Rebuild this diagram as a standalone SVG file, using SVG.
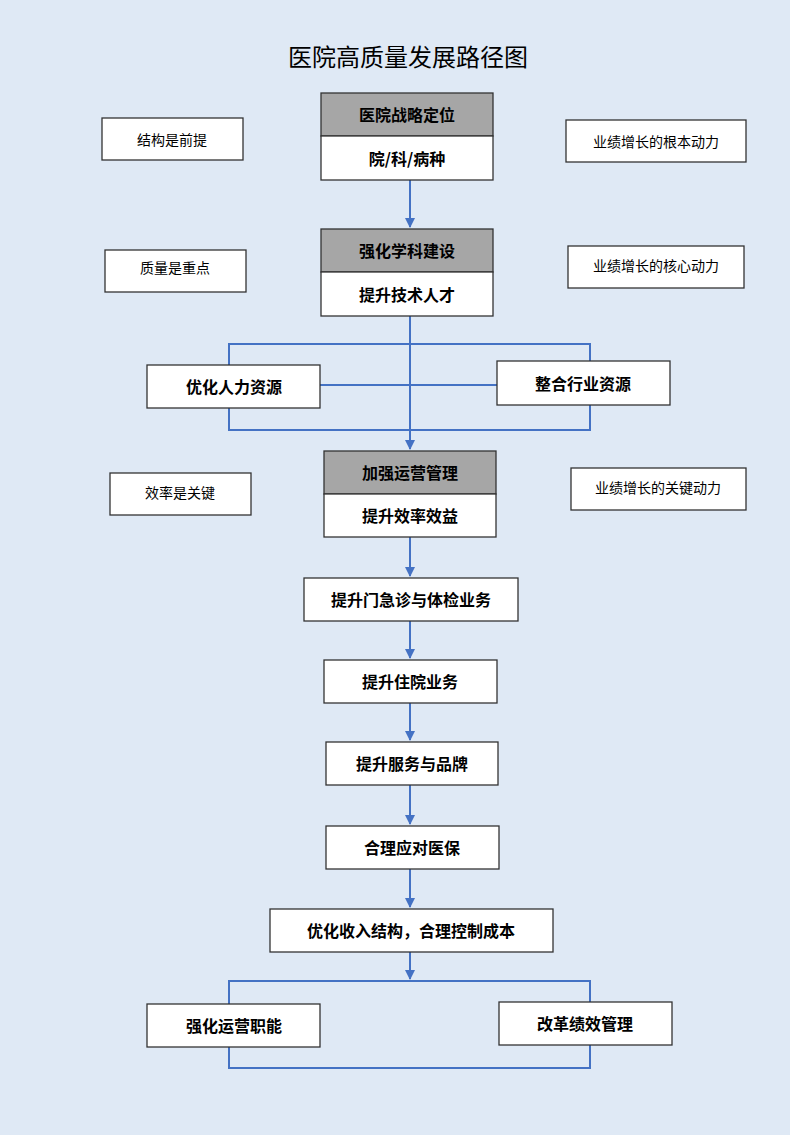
<svg xmlns="http://www.w3.org/2000/svg" width="800" height="1144" viewBox="0 0 800 1144">
<style>
.b{fill:#fff;stroke:#333;stroke-width:1.3}
.g{fill:#a6a6a6;stroke:#333;stroke-width:1.3}
.t{font-family:"Noto Sans CJK SC",sans-serif;font-size:16px;font-weight:bold;text-anchor:middle;dominant-baseline:central;fill:#000}
.s{font-family:"Noto Sans CJK SC",sans-serif;font-size:14px;text-anchor:middle;dominant-baseline:central;fill:#000}
.c{fill:none;stroke:#4472c4;stroke-width:2}
</style>
<defs><marker id="a" viewBox="0 0 10 10" refX="9" refY="5" markerWidth="5" markerHeight="5" orient="auto"><path d="M0,0L10,5L0,10z" fill="#4472c4"/></marker></defs>
<rect width="800" height="1144" fill="#fff"/>
<rect width="790" height="1135" fill="#dfe9f5"/>
<text x="408" y="55" font-family="Noto Sans CJK SC,sans-serif" font-size="24" text-anchor="middle" dominant-baseline="central">医院高质量发展路径图</text>
<g id="connectors">
<path class="c" d="M410,180V227" marker-end="url(#a)"/>
<path class="c" d="M410,316V449" marker-end="url(#a)"/>
<rect class="c" x="229" y="344" width="361" height="86"/>
<path class="c" d="M320,385H497"/>
<path class="c" d="M410,537V576" marker-end="url(#a)"/>
<path class="c" d="M410,621V658" marker-end="url(#a)"/>
<path class="c" d="M410,703V740" marker-end="url(#a)"/>
<path class="c" d="M410,785V824" marker-end="url(#a)"/>
<path class="c" d="M410,869V907" marker-end="url(#a)"/>
<path class="c" d="M410,952V979" marker-end="url(#a)"/>
<rect class="c" x="229" y="981" width="361" height="87"/>
</g>
<g id="n1"><rect class="g" x="321" y="93" width="172" height="43"/><text class="t" x="407" y="114">医院战略定位</text><rect class="b" x="321" y="136" width="172" height="44"/><text class="t" x="407" y="158">院/科/病种</text></g>
<g id="n2"><rect class="g" x="321" y="229" width="172" height="43"/><text class="t" x="407" y="250">强化学科建设</text><rect class="b" x="321" y="272" width="172" height="44"/><text class="t" x="407" y="294">提升技术人才</text></g>
<g id="n3"><rect class="b" x="147" y="365" width="173" height="43"/><text class="t" x="234" y="386">优化人力资源</text></g>
<g id="n4"><rect class="b" x="497" y="361" width="173" height="44"/><text class="t" x="583" y="383">整合行业资源</text></g>
<g id="n5"><rect class="g" x="324" y="451" width="172" height="43"/><text class="t" x="410" y="472">加强运营管理</text><rect class="b" x="324" y="494" width="172" height="43"/><text class="t" x="410" y="515">提升效率效益</text></g>
<g id="n6"><rect class="b" x="304" y="578" width="214" height="43"/><text class="t" x="411" y="599">提升门急诊与体检业务</text></g>
<g id="n7"><rect class="b" x="324" y="660" width="173" height="43"/><text class="t" x="410" y="681">提升住院业务</text></g>
<g id="n8"><rect class="b" x="326" y="742" width="172" height="43"/><text class="t" x="412" y="763">提升服务与品牌</text></g>
<g id="n9"><rect class="b" x="326" y="826" width="173" height="43"/><text class="t" x="412" y="847">合理应对医保</text></g>
<g id="n10"><rect class="b" x="270" y="909" width="283" height="43"/><text class="t" x="411" y="930">优化收入结构，合理控制成本</text></g>
<g id="n11"><rect class="b" x="147" y="1004" width="173" height="43"/><text class="t" x="234" y="1025">强化运营职能</text></g>
<g id="n12"><rect class="b" x="499" y="1002" width="173" height="43"/><text class="t" x="585" y="1023">改革绩效管理</text></g>
<g id="s1"><rect class="b" x="102" y="118" width="141" height="42"/><text class="s" x="172" y="139">结构是前提</text></g>
<g id="s2"><rect class="b" x="566" y="120" width="180" height="42"/><text class="s" x="656" y="141">业绩增长的根本动力</text></g>
<g id="s3"><rect class="b" x="105" y="250" width="141" height="42"/><text class="s" x="175" y="267">质量是重点</text></g>
<g id="s4"><rect class="b" x="568" y="246" width="176" height="42"/><text class="s" x="656" y="265">业绩增长的核心动力</text></g>
<g id="s5"><rect class="b" x="110" y="473" width="141" height="42"/><text class="s" x="180" y="492">效率是关键</text></g>
<g id="s6"><rect class="b" x="571" y="468" width="175" height="42"/><text class="s" x="658" y="487">业绩增长的关键动力</text></g>
</svg>
